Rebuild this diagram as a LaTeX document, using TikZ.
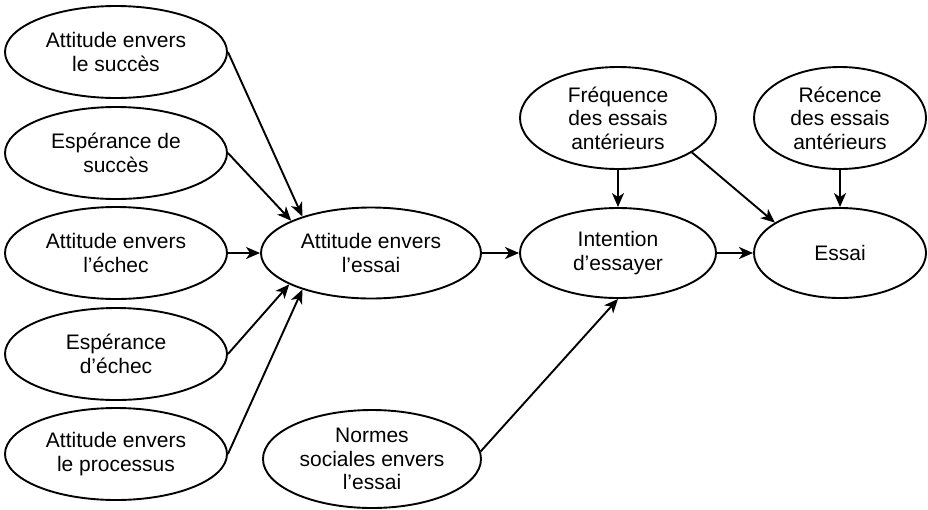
\documentclass[tikz,border=0pt]{standalone}
\usepackage{fontspec}
\setmainfont{Liberation Sans}
\usetikzlibrary{shapes.geometric,arrows.meta}
\tikzset{
  oval/.style={ellipse, draw, line width=1.9pt, inner sep=0pt, align=center,
    font=\fontsize{21pt}{23.5pt}\selectfont},
  conn/.style={line width=1.9pt, -{Stealth[length=14pt,width=12pt,inset=4pt]}}
}
\begin{document}
\begin{tikzpicture}[x=1pt,y=-1pt]
\useasboundingbox (0,0) rectangle (928,509);
\node[oval, minimum width=222pt, minimum height=92pt] (s1) at (116,52) {Attitude envers\\le succès};
\node[oval, minimum width=222pt, minimum height=92pt] (s2) at (116,153) {Espérance de\\succès};
\node[oval, minimum width=222pt, minimum height=92pt] (s3) at (116,253) {Attitude envers\\l’échec};
\node[oval, minimum width=222pt, minimum height=92pt] (s4) at (116,354) {Espérance\\d’échec};
\node[oval, minimum width=222pt, minimum height=92pt] (s5) at (116,454) {Attitude envers\\le processus};
\node[oval, minimum width=220pt, minimum height=91pt] (att) at (371,253) {Attitude envers\\l’essai};
\node[oval, minimum width=218pt, minimum height=98pt] (norm) at (372,459) {Normes\\sociales envers\\l’essai};
\node[oval, minimum width=196pt, minimum height=90pt] (int) at (618,253) {Intention\\d’essayer};
\node[oval, minimum width=172pt, minimum height=90pt] (ess) at (840,253) {Essai};
\node[oval, minimum width=196pt, minimum height=102pt] (freq) at (618,118) {Fréquence\\des essais\\antérieurs};
\node[oval, minimum width=172pt, minimum height=102pt] (rec) at (840,118) {Récence\\des essais\\antérieurs};

\draw[conn] (s1.east) -- (att.152);
\draw[conn] (s2.east) -- (att.158);
\draw[conn] (s3.east) -- (att.west);
\draw[conn] (s4.east) -- (att.201);
\draw[conn] (s5.east) -- (att.208);
\draw[conn] (att.east) -- (int.west);
\draw[conn] (int.east) -- (ess.west);
\draw[conn] (freq.south) -- (int.north);
\draw[conn] (rec.south) -- (ess.north);
\draw[conn] (freq.-25) -- (ess.155);
\draw[conn] (norm.4) -- (int.south);
\end{tikzpicture}
\end{document}
